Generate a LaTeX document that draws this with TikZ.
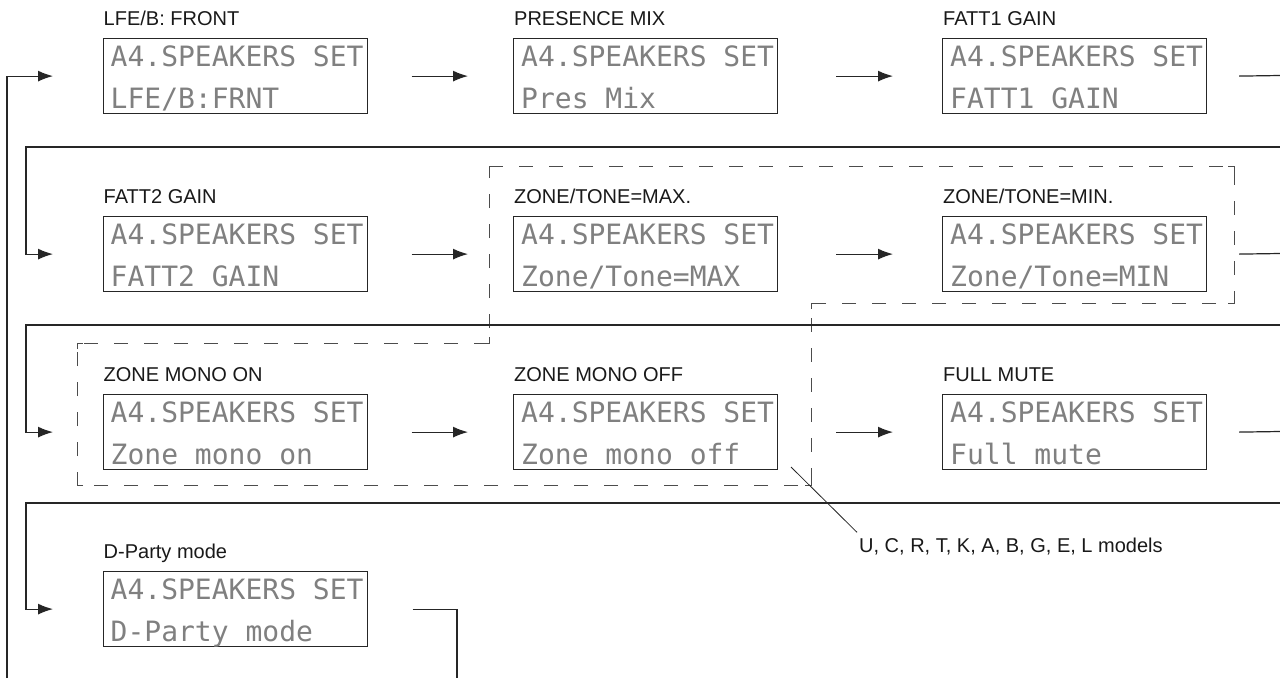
\documentclass[tikz,border=0pt]{standalone}
\usepackage{fontspec}
\setmainfont{Liberation Sans}
\newfontfamily\lcdfont{DejaVu Sans Mono}
\usetikzlibrary{arrows.meta}
\tikzset{
  lcd/.style={draw=black!85, line width=1.2pt, minimum width=264pt, minimum height=75pt, inner sep=0pt, anchor=north west},
  lcdtxt/.style={anchor=base west, inner sep=0pt, text=black!50, font=\lcdfont\fontsize{28}{30}\selectfont},
  boxcaption/.style={anchor=base west, inner sep=0pt, font=\fontsize{20}{24}\selectfont, text=black!90},
  conn/.style={line width=1.2pt, draw=black!85},
  arr/.style={conn, -{Latex[length=15pt,width=11pt]}},
  zone/.style={line width=1pt, draw=black!70, dash pattern=on 14pt off 16pt},
  zcorner/.style={line width=1pt, draw=black!70},
  leader/.style={line width=0.8pt, draw=black!85},
}
\newcommand\lcdbox[5]{%
  \node[lcd] (#1) at (#2,#3) {};
  \node[boxcaption] (#1-cap) at (#2+1,#3-13) {#4};
  \node[lcdtxt] (#1-l1) at (#2+8,#3+28) {A4.SPEAKERS SET};
  \node[lcdtxt] (#1-l2) at (#2+8,#3+70) {#5};
}
\begin{document}
\begin{tikzpicture}[x=1pt,y=-1pt]
\useasboundingbox (0,0) rectangle (1280,678);
\fill[white] (0,0) rectangle (1280,678);

% dashed group
\draw[zone] (489,166) -- (1234,166) -- (1234,303) -- (811,303) -- (811,485) -- (77,485) -- (77,343) -- (489,343) -- cycle;
\draw[zcorner] (495,166) -- (489,166) -- (489,172);
\draw[zcorner] (1228,166) -- (1234,166) -- (1234,172);
\draw[zcorner] (1234,297) -- (1234,303) -- (1228,303);
\draw[zcorner] (817,303) -- (811,303) -- (811,309);
\draw[zcorner] (811,479) -- (811,485) -- (805,485);
\draw[zcorner] (83,485) -- (77,485) -- (77,479);
\draw[zcorner] (77,349) -- (77,343) -- (83,343);
\draw[zcorner] (483,343) -- (489,343) -- (489,337);

% boxes
\lcdbox{b1}{102.5}{38}{LFE/B: FRONT}{LFE/B:FRNT}
\lcdbox{b2}{513}{38}{PRESENCE MIX}{Pres Mix}
\lcdbox{b3}{942}{38}{FATT1 GAIN}{FATT1 GAIN}
\lcdbox{b4}{102.5}{216}{FATT2 GAIN}{FATT2 GAIN}
\lcdbox{b5}{513}{216}{ZONE/TONE=MAX.}{Zone/Tone=MAX}
\lcdbox{b6}{942}{216}{ZONE/TONE=MIN.}{Zone/Tone=MIN}
\lcdbox{b7}{102.5}{394}{ZONE MONO ON}{Zone mono on}
\lcdbox{b8}{513}{394}{ZONE MONO OFF}{Zone mono off}
\lcdbox{b9}{942}{394}{FULL MUTE}{Full mute}
\lcdbox{b10}{102.5}{571}{D-Party mode}{D-Party mode}

% free ends
\coordinate (e1) at (1280,75.5);
\coordinate (e2) at (1280,253.5);
\coordinate (e3) at (1280,431.5);
\coordinate (s1) at (1280,147);
\coordinate (s2) at (1280,325);
\coordinate (s3) at (1280,503);
\coordinate (z0) at (7,678);
\coordinate (z1) at (457,678);

% row 1
\draw[arr] ([xshift=44pt]b1.east) -- ([xshift=-45pt]b2.west);
\draw[arr] ([xshift=58pt]b2.east) -- ([xshift=-49pt]b3.west);
\draw[conn] ([xshift=32pt]b3.east) -- (e1);
% row 2
\draw[arr] (s1) -- (26,147) |- ([xshift=-49.5pt]b4.west);
\draw[arr] ([xshift=44pt]b4.east) -- ([xshift=-45pt]b5.west);
\draw[arr] ([xshift=58pt]b5.east) -- ([xshift=-49pt]b6.west);
\draw[conn] ([xshift=32pt]b6.east) -- (e2);
% row 3
\draw[arr] (s2) -- (26,325) |- ([xshift=-49.5pt]b7.west);
\draw[arr] ([xshift=44pt]b7.east) -- ([xshift=-45pt]b8.west);
\draw[arr] ([xshift=58pt]b8.east) -- ([xshift=-49pt]b9.west);
\draw[conn] ([xshift=32pt]b9.east) -- (e3);
% row 4
\draw[arr] (s3) -- (26,503) |- ([xshift=-49.5pt]b10.west);
\draw[conn] ([xshift=45pt]b10.east) -| (z1);
% loop back
\draw[arr] (z0) |- ([xshift=-49.5pt]b1.west);

% models note
\node[boxcaption] (models) at (859,552) {U, C, R, T, K, A, B, G, E, L models};
\coordinate (ld) at (791,467);
\draw[leader] (ld) -- ([shift={(-2pt,5pt)}]models.north west);
\end{tikzpicture}
\end{document}
